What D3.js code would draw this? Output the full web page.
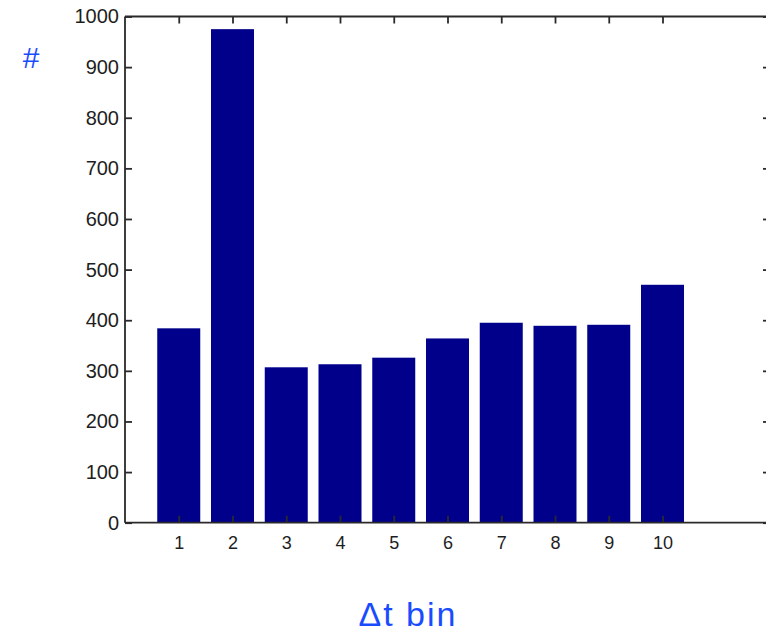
<!DOCTYPE html>
<html>
<head>
<meta charset="utf-8">
<script src="https://cdn.jsdelivr.net/npm/d3@7"></script>
<style>
  html, body { margin: 0; padding: 0; background: #fff; }
  svg { display: block; }
</style>
</head>
<body>
<svg id="chart" width="766" height="634"></svg>
<script>
// Histogram of counts per Δt bin
const bins = [1, 2, 3, 4, 5, 6, 7, 8, 9, 10];
const counts = [384, 975, 307, 313, 326, 364, 395, 389, 391, 470];
const yTicks = [0, 100, 200, 300, 400, 500, 600, 700, 800, 900, 1000];
const xDomain = [0, 12];
const yDomain = [0, 1000];

const svg = d3.select("#chart");
const plotLeft = 125, plotRight = 770, plotTop = 16.5, plotBottom = 522.7;
const axisColor = "#2a2a2a";
const tickLen = 7;
const labelFont = "Liberation Sans, Arial, Helvetica, sans-serif";

const x = d3.scaleLinear().domain(xDomain).range([plotLeft, plotRight]);
const y = d3.scaleLinear().domain(yDomain).range([plotBottom, plotTop]);
const barW = (x(1) - x(0)) * 0.8;

// bars
svg.append("g")
  .selectAll("rect")
  .data(bins)
  .join("rect")
  .attr("x", (d) => x(d) - barW / 2)
  .attr("y", (d, i) => y(counts[i]))
  .attr("width", barW)
  .attr("height", (d, i) => y(0) - y(counts[i]))
  .attr("fill", "#00008a");

// left axis with inward ticks
const yAxis = d3.axisLeft(y).tickValues(yTicks).tickFormat(d3.format("d"))
  .tickSizeInner(-tickLen).tickSizeOuter(0).tickPadding(6);
const gy = svg.append("g").attr("transform", `translate(${plotLeft},0)`).call(yAxis);

// bottom axis
const xAxis = d3.axisBottom(x).tickValues(bins).tickFormat(d3.format("d"))
  .tickSizeInner(-tickLen).tickSizeOuter(0).tickPadding(14);
const gx = svg.append("g").attr("transform", `translate(0,${plotBottom})`).call(xAxis);

// top and right box edges with inward ticks, no labels
const gt = svg.append("g").attr("transform", `translate(0,${plotTop})`)
  .call(d3.axisTop(x).tickValues(bins).tickSizeInner(-tickLen).tickSizeOuter(0).tickFormat(""));
const gr = svg.append("g").attr("transform", `translate(${plotRight},0)`)
  .call(d3.axisRight(y).tickValues(yTicks).tickSizeInner(-tickLen).tickSizeOuter(0).tickFormat(""));

[gx, gy, gt, gr].forEach((g) => {
  g.attr("font-size", null).attr("font-family", null);
  g.select(".domain").attr("stroke", axisColor).attr("stroke-width", 1.8);
  g.selectAll(".tick line").attr("stroke", axisColor).attr("stroke-width", 1.8);
  g.selectAll(".tick text")
    .attr("fill", "#1e1e1e")
    .style("font-family", labelFont)
    .style("font-size", "20px");
});
gx.selectAll(".tick text").style("font-size", "18px");
gy.select(".domain").attr("d", `M0,${plotBottom}V${plotTop}`);
gx.select(".domain").attr("d", `M${plotLeft},0H${plotRight}`);
gt.select(".domain").attr("d", `M${plotLeft},0H${plotRight}`);
gr.select(".domain").attr("d", `M0,${plotBottom}V${plotTop}`);

// axis titles
svg.append("text")
  .attr("x", 31).attr("y", 68)
  .attr("text-anchor", "middle")
  .attr("fill", "#1a4cff")
  .style("font-family", labelFont)
  .style("font-size", "30px")
  .text("#");

svg.append("text")
  .attr("x", 408).attr("y", 626)
  .attr("text-anchor", "middle")
  .attr("fill", "#1a4cff")
  .style("font-family", labelFont)
  .style("font-size", "34px")
  .style("letter-spacing", "2px")
  .text("Δt bin");
</script>
</body>
</html>
